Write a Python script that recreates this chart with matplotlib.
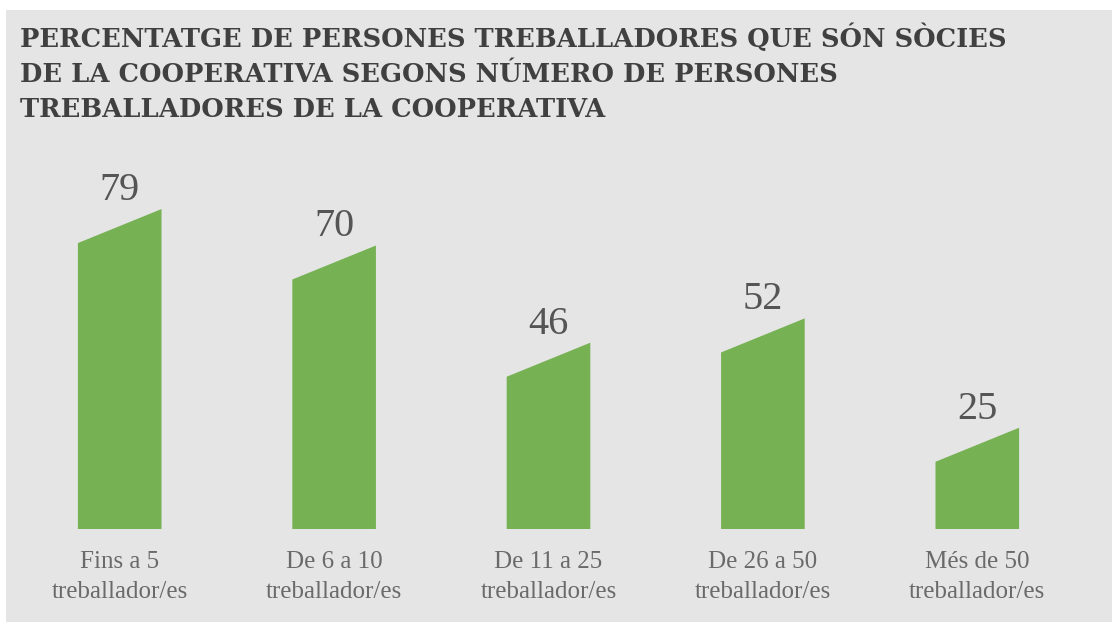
import matplotlib.pyplot as plt
from matplotlib.patches import Rectangle

# data
categories = ["Fins a 5\ntreballador/es", "De 6 a 10\ntreballador/es",
              "De 11 a 25\ntreballador/es", "De 26 a 50\ntreballador/es",
              "Més de 50\ntreballador/es"]
values = [79, 70, 46, 52, 25]
title_lines = ["PERCENTATGE DE PERSONES TREBALLADORES QUE SÓN SÒCIES",
               "DE LA COOPERATIVA SEGONS NÚMERO DE PERSONES",
               "TREBALLADORES DE LA COOPERATIVA"]

W, H = 1116, 630
green = "#76b153"
panel = "#e5e5e5"

fig = plt.figure(figsize=(W / 100, H / 100), dpi=100, facecolor="white")

# gray panel behind everything
fig.patches.append(Rectangle((6 / W, 8 / H), 1106 / W, 612 / H,
                             transform=fig.transFigure, facecolor=panel,
                             edgecolor="none", zorder=-1))

# axes: baseline at y=529px, 100 units = 405px
ax = fig.add_axes([12.5 / W, (H - 529) / H, 1072 / W, 405 / H])
ax.set_zorder(2)
ax.set_facecolor("none")
ax.set_xlim(-0.5, 4.5)
ax.set_ylim(0, 100)
ax.axis("off")

bw = 0.39      # bar width in category units
slant = 8.4    # left edge of the top is lower than the right edge

for i, v in enumerate(values):
    xl, xr = i - bw / 2, i + bw / 2
    ax.fill([xl, xr, xr, xl], [0, 0, v, v - slant], color=green, lw=0)
    ax.annotate(str(v), (i, v), xytext=(0, 6.5), textcoords="offset points",
                ha="center", va="baseline", fontsize=29,
                family="Liberation Serif", color="#555555",
                annotation_clip=False)
    ax.text(i, -5.5, categories[i], ha="center", va="top", fontsize=18,
            family="Liberation Serif", color="#6a6a6a", linespacing=1.45,
            clip_on=False)

for k, line in enumerate(title_lines):
    fig.text(20 / W, (H - 47 - 35 * k) / H, line, ha="left", va="baseline",
             fontsize=18.5, family="DejaVu Serif", fontweight="bold",
             color="#404040", zorder=3)

fig.savefig("out.png", dpi=100, facecolor="white")
